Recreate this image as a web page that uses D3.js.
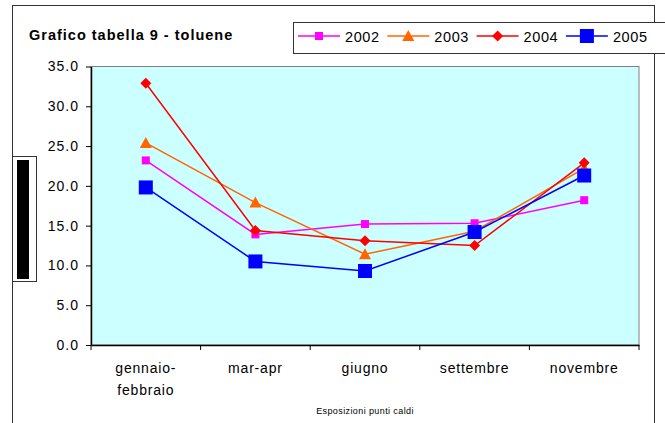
<!DOCTYPE html>
<html><head><meta charset="utf-8">
<script src="https://cdn.jsdelivr.net/npm/d3@7"></script>
<style>body{margin:0;background:#fff}svg{display:block;font-family:"Liberation Sans",Arial,sans-serif}</style>
</head><body><svg id="c" width="665" height="423"></svg>
<script>
const categories = ["gennaio-\nfebbraio","mar-apr","giugno","settembre","novembre"];
const years = ["2002","2003","2004","2005"];
const s2002 = [23.2, 13.9, 15.2, 15.3, 18.2];
const s2003 = [25.4, 17.9, 11.4, 14.3, 22.2];
const s2004 = [32.9, 14.4, 13.1, 12.5, 22.9];
const s2005 = [19.8, 10.5, 9.3, 14.2, 21.3];
const yTicks = [0,5,10,15,20,25,30,35];
const title = "Grafico tabella 9 - toluene";
const xTitle = "Esposizioni punti caldi";

const seriesVals = [s2002, s2003, s2004, s2005];
const colors = ["#FF00FF","#FF6600","#FF0000","#0000FF"];
const shapes = ["square","triangle","diamond","bigsquare"];

const svg = d3.select("#c");
const L = 91, R = 639, T = 66.5, B = 345;

// outer border
svg.append("rect").attr("x",12.5).attr("y",5.5).attr("width",642).attr("height",430)
  .attr("fill","#fff").attr("stroke","#333").attr("stroke-width",1);

const x = d3.scaleBand().domain(d3.range(categories.length)).range([L,R]).padding(0);
const y = d3.scaleLinear().domain([0,35]).range([B,T]);

svg.append("rect").attr("x",L).attr("y",T).attr("width",R-L).attr("height",B-T)
  .attr("fill","#CCFFFF").attr("stroke","#808080").attr("stroke-width",1);

// y axis
const ya = svg.append("g").attr("transform",`translate(${L},0)`)
  .call(d3.axisLeft(y).tickValues(yTicks).tickFormat(d3.format(".1f")).tickSize(5).tickSizeOuter(0));
ya.select(".domain").attr("stroke","#000").attr("stroke-width",1.5);
ya.selectAll(".tick line").attr("stroke","#000");
ya.selectAll(".tick text").attr("font-size",14).attr("fill","#000").attr("x",-12)
  .attr("letter-spacing","1px")
  .attr("font-family","Liberation Sans, Arial, sans-serif");

// x axis
const xa = svg.append("g").attr("transform",`translate(0,${B})`)
  .call(d3.axisBottom(x).tickSize(0).tickFormat(""));
xa.select(".domain").attr("stroke","#000").attr("stroke-width",1.5);
const bounds = d3.range(categories.length+1).map(i => L + i*x.bandwidth());
svg.append("g").selectAll("line").data(bounds).join("line")
  .attr("x1",d=>d).attr("x2",d=>d).attr("y1",B).attr("y2",B+5).attr("stroke","#000");

const lab = svg.append("g").attr("font-size",14).attr("fill","#000").attr("text-anchor","middle")
  .attr("letter-spacing","0.8px");
categories.forEach((c,i) => {
  const lines = c.split("\n");
  const t = lab.append("text").attr("x", x(i)+x.bandwidth()/2).attr("y",373);
  lines.forEach((ln,j) => {
    t.append("tspan").attr("x", x(i)+x.bandwidth()/2).attr("dy", j===0?0:22).text(ln);
  });
});

svg.append("text").attr("x",365).attr("y",414).attr("text-anchor","middle")
  .attr("font-size",9).attr("letter-spacing","0.4px").attr("fill","#000").text(xTitle);

// title
svg.append("text").attr("x",29).attr("y",40).attr("font-size",14.5).attr("font-weight","bold")
  .attr("letter-spacing","1px").attr("fill","#000").text(title);

function marker(g, shape, color, cx, cy){
  if(shape==="square") g.append("rect").attr("x",cx-4).attr("y",cy-4).attr("width",8).attr("height",8).attr("fill",color);
  else if(shape==="bigsquare") g.append("rect").attr("x",cx-7).attr("y",cy-7).attr("width",14).attr("height",14).attr("fill",color);
  else if(shape==="triangle") g.append("path").attr("d",`M${cx},${cy-6}L${cx+6},${cy+5}L${cx-6},${cy+5}Z`).attr("fill",color);
  else if(shape==="diamond") g.append("path").attr("d",`M${cx},${cy-5.5}L${cx+5.5},${cy}L${cx},${cy+5.5}L${cx-5.5},${cy}Z`).attr("fill",color);
}

const line = d3.line().x((d,i)=>x(i)+x.bandwidth()/2).y(d=>y(d));
seriesVals.forEach((vals,k) => {
  const g = svg.append("g");
  g.append("path").attr("d",line(vals)).attr("fill","none").attr("stroke",colors[k]).attr("stroke-width",1.5);
  vals.forEach((v,i) => marker(g, shapes[k], colors[k], x(i)+x.bandwidth()/2, y(v)));
});

// legend
svg.append("rect").attr("x",293.5).attr("y",22.5).attr("width",380).attr("height",31)
  .attr("fill","#fff").attr("stroke","#333").attr("stroke-width",1);
years.forEach((yr,k) => {
  const lx = 298 + k*89.3;
  const g = svg.append("g");
  g.append("line").attr("x1",lx).attr("x2",lx+42).attr("y1",36).attr("y2",36).attr("stroke",colors[k]).attr("stroke-width",1.5);
  marker(g, shapes[k], colors[k], lx+21, 36);
  g.append("text").attr("x",lx+47).attr("y",41.5).attr("font-size",14.5).attr("letter-spacing","0.6px").attr("fill","#000").text(yr);
});

// left black marker box
svg.append("rect").attr("x",12.5).attr("y",156.5).attr("width",24).attr("height",125)
  .attr("fill","#fff").attr("stroke","#333");
svg.append("rect").attr("x",17).attr("y",160).attr("width",12).attr("height",119).attr("fill","#000");
</script></body></html>
